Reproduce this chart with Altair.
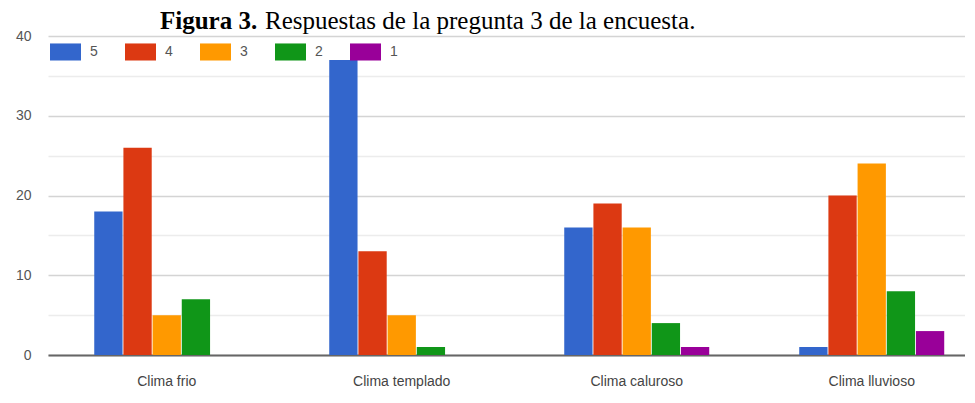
import altair as alt
import pandas as pd

# ---- data ----
categories = ["Clima frio", "Clima templado", "Clima caluroso", "Clima lluvioso"]
series = ["5", "4", "3", "2", "1"]
values_5 = [18, 37, 16, 1]
values_4 = [26, 13, 19, 20]
values_3 = [5, 5, 16, 24]
values_2 = [7, 1, 4, 8]
values_1 = [0, 0, 1, 3]
colors = ["#3366cc", "#dc3912", "#ff9900", "#109618", "#990099"]
y_ticks = [0, 5, 10, 15, 20, 25, 30, 35, 40]
title_bold = "Figura 3."
title_rest = "Respuestas de la pregunta 3 de la encuesta."

by_series = dict(zip(series, [values_5, values_4, values_3, values_2, values_1]))
rows = []
for s in series:
    for c, v in zip(categories, by_series[s]):
        rows.append({"categoria": c, "serie": s, "valor": v})
df = pd.DataFrame(rows)

FONT = "Arial, Liberation Sans, sans-serif"

bars = alt.Chart(df).mark_bar().encode(
    x=alt.X(
        "categoria:N",
        sort=categories,
        scale=alt.Scale(paddingInner=0.383, paddingOuter=0.1426, align=0.69),
        axis=alt.Axis(
            title=None,
            labelAngle=0,
            labelFontSize=14,
            labelColor="#444444",
            labelFont=FONT,
            labelPadding=19,
            ticks=False,
            domain=True,
            domainColor="#666666",
            domainWidth=2,
            grid=False,
        ),
    ),
    xOffset=alt.XOffset("serie:N", sort=series, scale=alt.Scale(paddingInner=0.03)),
    y=alt.Y(
        "valor:Q",
        scale=alt.Scale(domain=[0, 40], nice=False),
        axis=alt.Axis(
            title=None,
            values=y_ticks,
            labelExpr="datum.value % 10 === 0 ? datum.label : ''",
            labelFontSize=14,
            labelColor="#555555",
            labelFont=FONT,
            labelPadding=17,
            ticks=False,
            domain=False,
            grid=True,
            gridColor={
                "condition": {"test": "datum.value % 10 === 0", "value": "#d4d4d4"},
                "value": "#ececec",
            },
            gridWidth=1.5,
        ),
    ),
    color=alt.Color(
        "serie:N",
        sort=series,
        scale=alt.Scale(domain=series, range=colors),
        legend=alt.Legend(
            title=None,
            orient="none",
            legendX=2,
            legendY=0,
            direction="horizontal",
            symbolType="M-1,-0.55H1V0.55H-1Z",
            symbolSize=961,
            symbolStrokeWidth=0,
            symbolOpacity=1,
            labelFontSize=14,
            labelColor="#555555",
            labelFont=FONT,
            labelOffset=9,
            columnPadding=27,
            padding=0,
        ),
    ),
)

t1 = alt.Chart(pd.DataFrame({"t": [title_bold]})).mark_text(
    align="left", baseline="alphabetic", font="Liberation Serif",
    fontSize=25, fontWeight="bold", color="#000000",
).encode(text="t:N", x=alt.value(112), y=alt.value(-7))

t2 = alt.Chart(pd.DataFrame({"t": [title_rest]})).mark_text(
    align="left", baseline="alphabetic", font="Liberation Serif",
    fontSize=25, color="#000000",
).encode(text="t:N", x=alt.value(217), y=alt.value(-7))

chart = alt.layer(bars, t1, t2).properties(
    width=917,
    height=319,
    autosize=alt.AutoSizeParams(type="none"),
    padding={"left": 40, "top": 28, "right": 0, "bottom": 40},
).configure_view(strokeWidth=0)

chart.save("out.html", embed_options={"renderer": "svg", "actions": False})
